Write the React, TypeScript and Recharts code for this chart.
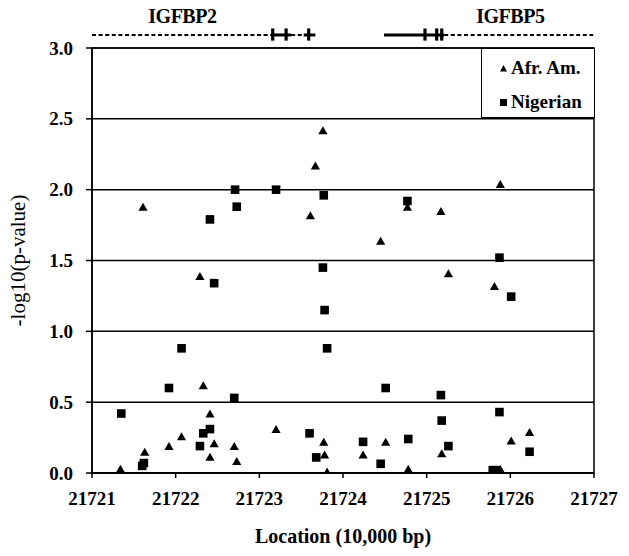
import React from 'react';
import {
  ScatterChart,
  Scatter,
  XAxis,
  YAxis,
  CartesianGrid,
  ReferenceLine,
  ReferenceArea,
  ReferenceDot,
  Legend,
} from 'recharts';

// ---------- data ----------
const xTicks = [21721, 21722, 21723, 21724, 21725, 21726, 21727];
const yTicks = [0, 0.5, 1, 1.5, 2, 2.5, 3];

const afrAmPoints: [number, number][] = [
  [21721.34, 0.03], [21721.61, 1.88], [21721.63, 0.15], [21721.92, 0.19],
  [21722.07, 0.26], [21722.29, 1.39], [21722.33, 0.62], [21722.41, 0.42],
  [21722.41, 0.115], [21722.46, 0.21], [21722.70, 0.19], [21722.73, 0.085],
  [21723.20, 0.31], [21723.61, 1.82], [21723.67, 2.17], [21723.76, 2.42],
  [21723.77, 0.22], [21723.78, 0.13], [21723.81, 0.01], [21724.24, 0.13],
  [21724.45, 1.64], [21724.51, 0.22], [21724.77, 1.88], [21724.78, 0.03],
  [21725.17, 1.85], [21725.18, 0.14], [21725.26, 1.41], [21725.81, 1.32],
  [21725.88, 2.04], [21725.88, 0.03], [21726.01, 0.23], [21726.23, 0.29],
];

const nigerianPoints: [number, number][] = [
  [21721.35, 0.42], [21721.60, 0.05], [21721.62, 0.07], [21721.92, 0.60],
  [21722.07, 0.88], [21722.29, 0.19], [21722.33, 0.28], [21722.41, 1.79],
  [21722.41, 0.31], [21722.46, 1.34], [21722.70, 0.53], [21722.71, 2.00],
  [21722.73, 1.88], [21723.20, 2.00], [21723.60, 0.28], [21723.68, 0.11],
  [21723.77, 1.96], [21723.76, 1.45], [21723.78, 1.15], [21723.81, 0.88],
  [21724.24, 0.22], [21724.45, 0.065], [21724.51, 0.60], [21724.77, 1.92],
  [21724.78, 0.24], [21725.17, 0.55], [21725.18, 0.37], [21725.26, 0.19],
  [21725.79, 0.02], [21725.83, 0.02], [21725.87, 1.52], [21725.87, 0.43],
  [21726.01, 1.245], [21726.23, 0.15],
];

// gene track (location in 10,000 bp)
const geneLabels = [
  { name: 'IGFBP2', x: 21722.08 },
  { name: 'IGFBP5', x: 21726.0 },
];
const trackDashed: [number, number][] = [
  [21721.0, 21723.14],
  [21723.38, 21723.53],
  [21725.21, 21726.99],
];
const trackSolid: [number, number][] = [
  [21723.14, 21723.38],
  [21723.53, 21723.67],
  [21724.49, 21725.21],
];
const trackCrosses = [21723.16, 21723.32, 21723.59, 21724.98, 21725.12, 21725.18];

const seriesNames = ['Afr. Am.', 'Nigerian'];

// ---------- styling ----------
const FONT = '"Liberation Serif", "Times New Roman", serif';
const TRACK_Y = 3.092;
const CROSS_TOP = 3.138;
const CROSS_BOTTOM = 3.052;
const LABEL_Y = 3.176;

const afrAm = afrAmPoints.map(([x, y]) => ({ x, y }));
const nigerian = nigerianPoints.map(([x, y]) => ({ x, y }));

const Triangle = (p: any) => {
  const { cx, cy } = p;
  if (cx == null || cy == null) return null;
  return (
    <polygon
      points={`${cx},${cy - 4} ${cx + 4.6},${cy + 4} ${cx - 4.6},${cy + 4}`}
      fill="#000"
    />
  );
};

const Square = (p: any) => {
  const { cx, cy } = p;
  if (cx == null || cy == null) return null;
  return <rect x={cx - 4.3} y={cy - 4.3} width={8.6} height={8.6} fill="#000" />;
};

const XTick = (p: any) => {
  const { x, y, payload } = p;
  return (
    <text
      x={x}
      y={y}
      dy={13.5}
      textAnchor="middle"
      fill="#000"
      style={{ fontSize: 19, fontWeight: 700, fontFamily: FONT }}
    >
      {payload.value}
    </text>
  );
};

const YTick = (p: any) => {
  const { x, y, payload } = p;
  return (
    <text
      x={x}
      y={y}
      dy={6.5}
      textAnchor="end"
      fill="#000"
      style={{ fontSize: 19, fontWeight: 700, fontFamily: FONT }}
    >
      {Number(payload.value).toFixed(1)}
    </text>
  );
};

const LegendBox = () => (
  <div
    style={{
      position: 'relative',
      width: 114,
      height: 70,
      border: '1.5px solid #000',
      boxSizing: 'border-box',
      background: '#fff',
      fontFamily: FONT,
      fontWeight: 'bold',
      fontSize: 19,
      color: '#000',
    }}
  >
    {seriesNames.map((name, i) => (
      <div
        key={name}
        style={{
          position: 'absolute',
          left: 17,
          top: i === 0 ? 8 : 42,
          height: 22,
          lineHeight: '22px',
          display: 'flex',
          alignItems: 'center',
          whiteSpace: 'nowrap',
        }}
      >
        <svg width={9} height={9} style={{ marginRight: 3 }}>
          {i === 0 ? (
            <polygon points="4.5,1 8,7.5 1,7.5" fill="#000" />
          ) : (
            <rect x={1} y={1} width={7} height={7} fill="#000" />
          )}
        </svg>
        <span>{name}</span>
      </div>
    ))}
  </div>
);

export default function App() {
  return (
    <div style={{ margin: -8, width: 629, height: 556, background: '#fff' }}>
      <ScatterChart
        width={629}
        height={556}
        margin={{ top: 48, right: 35, bottom: 0, left: 0 }}
      >
        <CartesianGrid
          horizontal
          vertical={false}
          stroke="#000"
          strokeWidth={1.5}
          strokeOpacity={1}
        />
        <XAxis
          type="number"
          dataKey="x"
          domain={[21721, 21727]}
          ticks={xTicks}
          allowDataOverflow
          height={83}
          tickSize={5}
          tickMargin={13}
          axisLine={{ stroke: '#000', strokeWidth: 1.5 }}
          tickLine={{ stroke: '#000', strokeWidth: 1.5 }}
          tick={<XTick />}
          label={(props: any) => {
            const vb = props.viewBox || { x: 92, y: 473, width: 502, height: 83 };
            return (
              <text
                x={vb.x + vb.width / 2}
                y={543}
                textAnchor="middle"
                fill="#000"
                style={{ fontSize: 20, fontWeight: 700, fontFamily: FONT }}
              >
                Location (10,000 bp)
              </text>
            );
          }}
        />
        <YAxis
          type="number"
          dataKey="y"
          domain={[0, 3]}
          ticks={yTicks}
          allowDataOverflow
          width={92}
          tickSize={6}
          tickMargin={13}
          axisLine={{ stroke: '#000', strokeWidth: 1.5 }}
          tickLine={{ stroke: '#000', strokeWidth: 1.5 }}
          tick={<YTick />}
          label={(props: any) => {
            const vb = props.viewBox || { x: 0, y: 48, width: 92, height: 425 };
            const cy = vb.y + vb.height / 2;
            return (
              <text
                x={18}
                y={cy}
                transform={`rotate(-90, 18, ${cy})`}
                textAnchor="middle"
                dominantBaseline="central"
                fill="#000"
                style={{ fontSize: 21, fontFamily: FONT }}
              >
                -log10(p-value)
              </text>
            );
          }}
        />
        <ReferenceArea
          x1={21721}
          x2={21727}
          y1={0}
          y2={3}
          fill="none"
          fillOpacity={0}
          stroke="#000"
          strokeWidth={1.5}
          ifOverflow="visible"
        />

        {trackDashed.map(([a, b], i) => (
          <ReferenceLine
            key={`d${i}`}
            segment={[{ x: a, y: TRACK_Y }, { x: b, y: TRACK_Y }]}
            stroke="#000"
            strokeWidth={2}
            strokeDasharray="4 2.6"
            ifOverflow="visible"
          />
        ))}
        {trackSolid.map(([a, b], i) => (
          <ReferenceLine
            key={`s${i}`}
            segment={[{ x: a, y: TRACK_Y }, { x: b, y: TRACK_Y }]}
            stroke="#000"
            strokeWidth={3}
            ifOverflow="visible"
          />
        ))}
        {trackCrosses.map((c, i) => (
          <ReferenceLine
            key={`c${i}`}
            segment={[{ x: c, y: CROSS_TOP }, { x: c, y: CROSS_BOTTOM }]}
            stroke="#000"
            strokeWidth={3.2}
            ifOverflow="visible"
          />
        ))}
        {geneLabels.map((g) => (
          <ReferenceDot
            key={g.name}
            x={g.x}
            y={LABEL_Y}
            r={0}
            ifOverflow="visible"
            shape={(p: any) => (
              <text
                x={p.cx}
                y={p.cy}
                textAnchor="middle"
                fill="#000"
                letterSpacing={-0.5}
                style={{ fontSize: 20, fontWeight: 700, fontFamily: FONT }}
              >
                {g.name}
              </text>
            )}
          />
        ))}

        <Scatter
          name={seriesNames[0]}
          data={afrAm}
          shape={Triangle}
          isAnimationActive={false}
        />
        <Scatter
          name={seriesNames[1]}
          data={nigerian}
          shape={Square}
          isAnimationActive={false}
        />
        <Legend
          layout="horizontal"
          verticalAlign="middle"
          align="center"
          wrapperStyle={{ top: 48, left: 481, width: 114, height: 70, margin: 0 }}
          content={() => <LegendBox />}
        />
      </ScatterChart>
    </div>
  );
}
